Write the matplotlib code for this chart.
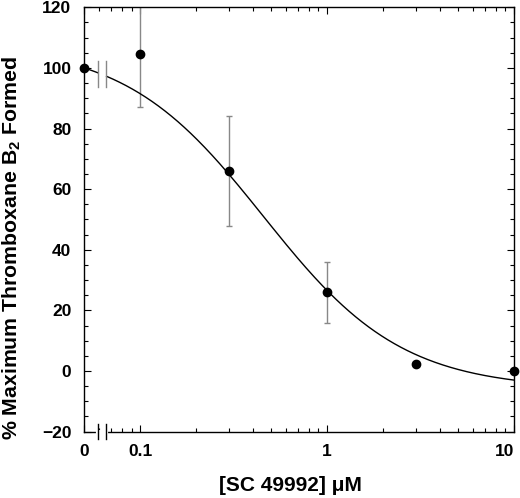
import numpy as np
import matplotlib
matplotlib.use("Agg")
import matplotlib.pyplot as plt
from matplotlib.ticker import FixedLocator, MultipleLocator

# measured points (0 is drawn at the left end of the broken log axis)
conc = [0, 0.1, 0.3, 1, 3, 10]
resp = [100, 104.5, 66, 26, 2.4, 0]
sem = [0, 17.5, 18, 10, 0, 0]

# fitted logistic curve parameters
fit_top = 108
fit_bottom = -6
fit_log_ic50 = -0.34
fit_hill = 1.17

zero_pos = 10 ** -1.3
break_lo = 10 ** -1.225
break_hi = 10 ** -1.183

plt.rcParams['font.family'] = ['Liberation Sans', 'DejaVu Sans']
plt.rcParams['font.weight'] = 'bold'
plt.rcParams['mathtext.fontset'] = 'custom'
plt.rcParams['mathtext.rm'] = 'Liberation Sans:bold'
plt.rcParams['mathtext.bf'] = 'Liberation Sans:bold'
plt.rcParams['mathtext.default'] = 'bf'

fig = plt.figure(figsize=(5.2, 4.98), dpi=100)
ax = fig.add_axes([0.1615, 0.1333, 0.827, 0.852])
ax.set_xscale('log')

xpos = [zero_pos if c == 0 else c for c in conc]

# curve, split at the axis break
xc = np.logspace(-1.3, 1, 400)
yc = fit_bottom + (fit_top - fit_bottom) / (1 + 10 ** (fit_hill * (np.log10(xc) - fit_log_ic50)))
left = xc <= break_lo
right = xc >= break_hi
ax.plot(xc[left], yc[left], color='black', lw=1.0, zorder=3)
ax.plot(xc[right], yc[right], color='black', lw=1.0, zorder=3)

# break marks on curve
for b in (break_lo, break_hi):
    ax.plot([b, b], [93.8, 102.4], color='#888888', lw=1.0, zorder=3)

# error bars and points
for x, y, e in zip(xpos, resp, sem):
    if e > 0:
        ax.errorbar(x, y, yerr=e, fmt='none', ecolor='#888888', elinewidth=1.0,
                    capsize=2.5, capthick=1.0, zorder=2)
ax.plot(xpos, resp, 'o', color='black', markersize=6, zorder=4, clip_on=False)

ax.set_xlim(zero_pos, 10)
ax.set_ylim(-20, 120)

# axis break on the bottom spine
ax.plot([break_lo, break_hi], [-20, -20], color='white', lw=3, clip_on=False, zorder=5)
for b in (break_lo, break_hi):
    ax.plot([b, b], [-22.6, -17.4], color='black', lw=1.0, clip_on=False, zorder=6)

ax.xaxis.set_major_locator(FixedLocator([zero_pos, 0.1, 1, 10]))
ax.set_xticklabels(['0', '0.1', '1', '10'])
minors = [0.06, 0.07, 0.08, 0.09] + [m * 0.1 for m in range(2, 10)] + list(range(2, 10))
ax.xaxis.set_minor_locator(FixedLocator(minors))
ax.xaxis.set_minor_formatter(plt.NullFormatter())
ax.yaxis.set_major_locator(MultipleLocator(20))
ax.yaxis.set_minor_locator(MultipleLocator(5))

ax.tick_params(which='both', direction='in', top=True, right=True, width=0.8)
ax.tick_params(which='major', length=5, labelsize=12.5, pad=9)
ax.tick_params(which='minor', length=3)
for s in ax.spines.values():
    s.set_linewidth(1.0)
ax.get_xticklabels()[-1].set_horizontalalignment('right')

ax.set_xlabel('[SC 49992] \u03bcM', fontsize=15, fontweight='bold')
ax.set_ylabel('% Maximum Thromboxane B$_2$ Formed', fontsize=15.3, fontweight='bold')
ax.xaxis.set_label_coords(0.479, -0.105)
ax.yaxis.set_label_coords(-0.142, 0.433)

fig.savefig('out.png', dpi=100)
